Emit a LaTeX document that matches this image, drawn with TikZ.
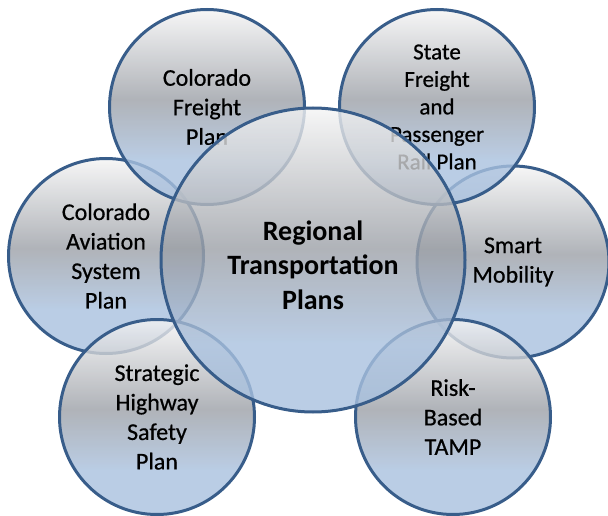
\documentclass[tikz,border=0pt]{standalone}
\usepackage{fontspec}
\setmainfont{Carlito}
\newfontfamily\bubblefont{Carlito}[FakeBold=0.6]
\usepackage{tikz}

\definecolor{bubbleline}{HTML}{385D8A}
\definecolor{bubbletop}{HTML}{F4F4F4}
\definecolor{bubblegray}{HTML}{9CA0A7}
\definecolor{bubbleblue}{HTML}{A9C1DF}

\pgfdeclareverticalshading{bubbleshade}{100bp}{color(0bp)=(bubbleblue); color(25bp)=(bubbleblue); color(36bp)=(bubbleblue); color(52bp)=(bubblegray); color(75bp)=(bubbletop); color(100bp)=(bubbletop)}

\tikzset{
  bubble/.style={circle, draw=bubbleline, line width=3pt, shade, shading=bubbleshade,
    fill opacity=0.8, text opacity=1, align=center, inner sep=0pt, minimum size=195pt,
    font=\bubblefont\fontsize{24}{29.5}\selectfont},
  hub/.style={bubble, minimum size=304pt},
  hubtext/.style={align=center, inner sep=0pt, font=\fontsize{28}{34.5}\selectfont\bfseries}
}

\begin{document}
\begin{tikzpicture}[x=1pt,y=-1pt]
  \useasboundingbox (0,0) rectangle (608,516);

  \node[bubble] (cap) at (106,256) {Colorado\\Aviation\\System\\Plan};
  \node[bubble] (shsp) at (157,417) {Strategic\\Highway\\Safety\\Plan};
  \node[bubble, minimum size=192pt] (smart) at (513,262) {Smart\\Mobility};
  \node[bubble] (tamp) at (453,417) {Risk-\\Based\\TAMP};
  \node[bubble] (cfp) at (207,107) {Colorado\\Freight\\Plan};
  \node[bubble, font=\bubblefont\fontsize{23}{27.5}\selectfont] (sfrp) at (437,107) {State\\Freight\\and\\Passenger\\Rail Plan};

  \node[hub] (rtp) at (313,260) {};
  \node[hubtext] (rtplabel) at (313,265) {Regional\\Transportation\\Plans};
\end{tikzpicture}
\end{document}
